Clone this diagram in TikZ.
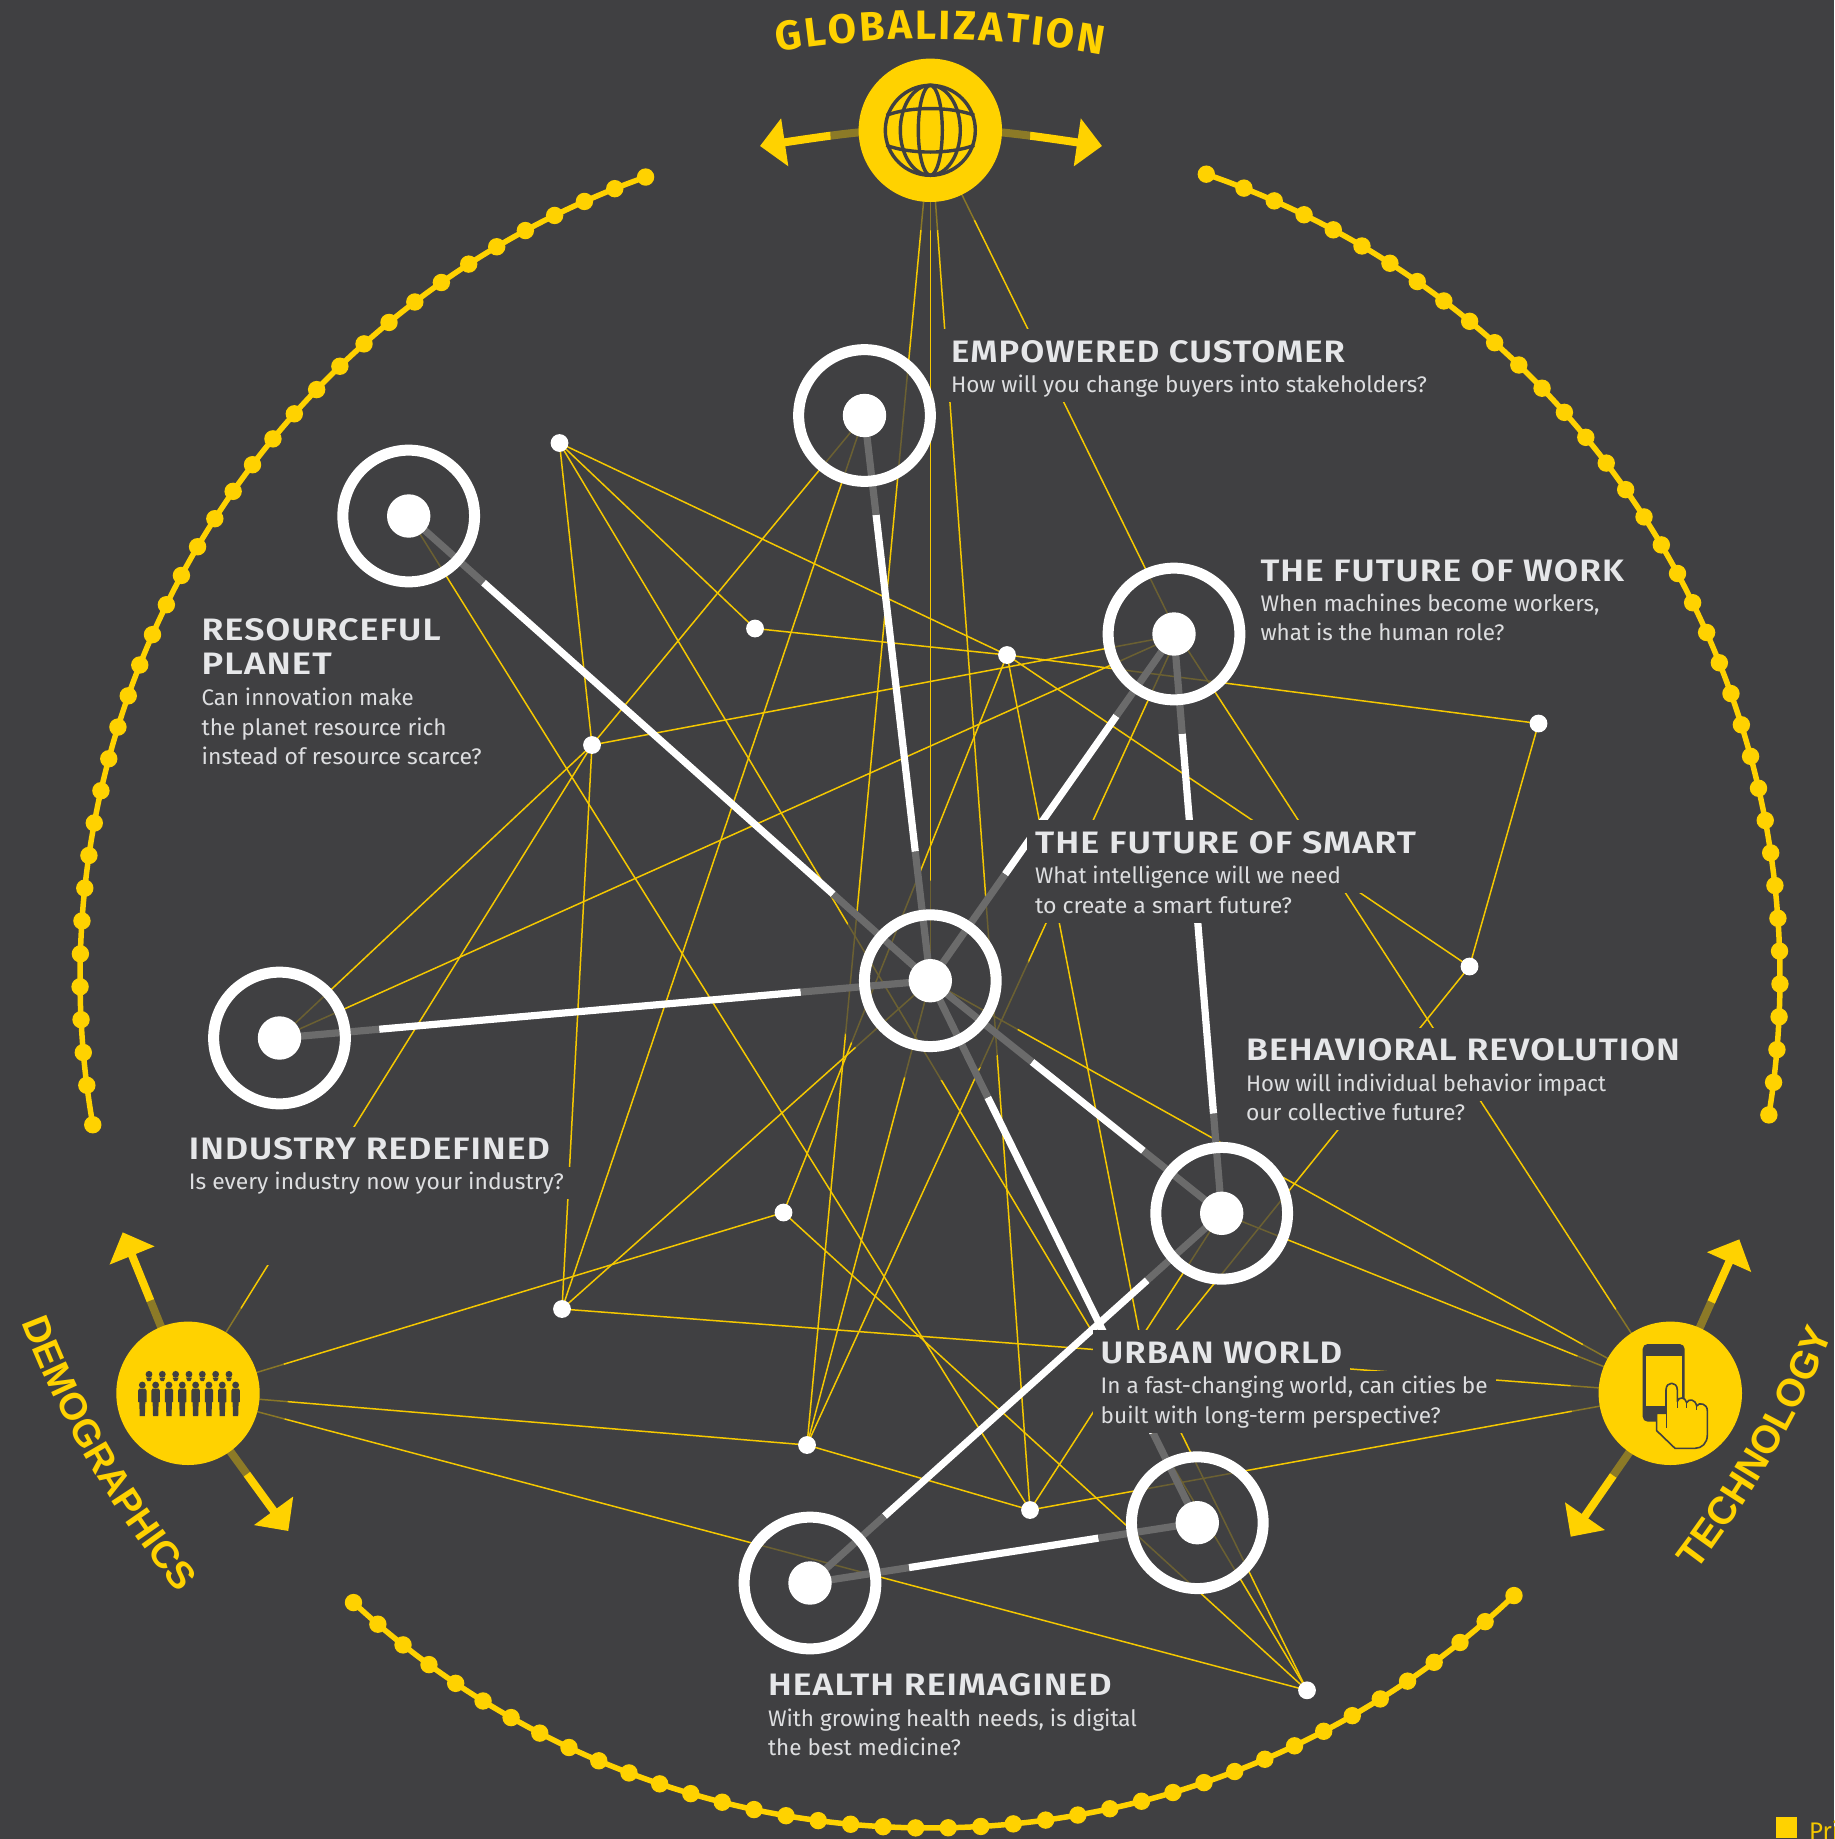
\documentclass[tikz,border=0pt]{standalone}
\usepackage{fontspec}
\setmainfont{Fira Sans}
\newfontfamily\hdfont[LetterSpace=3,BoldFont={Fira Sans SemiBold}]{Fira Sans}
\newfontfamily\curvefont{Liberation Sans}
\usetikzlibrary{calc,arrows.meta,decorations.text}
\definecolor{bgc}{HTML}{404042}
\definecolor{hubyel}{HTML}{FFD200}
\definecolor{thinyel}{HTML}{F5C800}
\definecolor{greyl}{HTML}{6B6B6B}
\definecolor{headc}{HTML}{E6E7E9}
\definecolor{subc}{HTML}{DDDEE0}
\pgfdeclarelayer{back}\pgfdeclarelayer{thinl}\pgfdeclarelayer{veil}\pgfdeclarelayer{thickl}\pgfdeclarelayer{labels}
\pgfsetlayers{back,thinl,veil,thickl,labels,main}
\tikzset{
  hub/.style={circle,fill=hubyel,inner sep=0,outer sep=0,minimum size=143.4pt},
  ring/.style={circle,draw=white,line width=11pt,inner sep=0,outer sep=0,minimum size=131.7pt},
  core/.style={circle,fill=white,inner sep=0,outer sep=0,minimum size=43.4pt},
  dotn/.style={circle,fill=white,inner sep=0,outer sep=0,minimum size=17.8pt},
  thinline/.style={draw=thinyel,line width=1.5pt},
  whiteline/.style={draw=white,line width=7.2pt},
  greyline/.style={draw=greyl,line width=7.2pt},
  hubarrow/.style={draw=hubyel,line width=8pt,-{Triangle[length=25pt,width=47pt,fill=hubyel]}},
  beadline/.style={draw=hubyel,line width=5.5pt},
  headrow/.style={anchor=base west,xshift=-8pt,fill=bgc,inner xsep=8pt,inner ysep=0pt,outer sep=0pt,text height=33pt,text depth=9.5pt,text=headc,font=\hdfont\bfseries\fontsize{31}{33}\selectfont},
  subrow/.style={anchor=base west,xshift=-8pt,fill=bgc,inner xsep=8pt,inner ysep=0pt,outer sep=0pt,text height=22pt,text depth=9.5pt,text=subc,font=\fontsize{22.5}{24}\selectfont},
  icon/.style={draw=bgc,line width=3.4pt},
}
\newcommand\hdl[5]{\node[headrow] (#1) at (#2,#3) {\resizebox{#4pt}{\height}{#5}};}
\newcommand\sbl[6][0]{\node[subrow] (#2) at (#3,#4) {\resizebox{#5pt}{\height}{#6}\hspace*{#1pt}};}
\newcommand\thickseg[4]{%
  \draw[whiteline] ($(#1.center)!#3pt!(#2.center)$) -- ($(#2.center)!#4pt!(#1.center)$);
  \draw[greyline] (#1.center) -- ($(#1.center)!#3pt!(#2.center)$);
  \draw[greyline] (#2.center) -- ($(#2.center)!#4pt!(#1.center)$);}
\begin{document}
\begin{tikzpicture}[x=1pt,y=-1pt]
\useasboundingbox (0,0) rectangle (1834,1839);
% nodes
\node[hub] (hG) at (930.3,130.3) {};
\node[hub] (hD) at (188,1393.3) {};
\node[hub] (hT) at (1670.3,1393.3) {};
\foreach \n/\x/\y in {EC/864.5/415.5,RP/408.7/516,FW/1174/634,CC/930.3/980.7,IR/279.5/1038,BR/1221.7/1213.3,UW/1197.3/1522.7,HR/810/1583}{
  \node[ring] (r\n) at (\x,\y) {};
  \node[core] (c\n) at (\x,\y) {};
}
\foreach \n/\x/\y in {a/559.5/443,b/755/628.5,c/1007/655,d/1538.5/723.5,e/592/745,f/1469.5/966.5,g/783.5/1212.5,h/562/1309,i/807/1445,j/1030/1510,k/1307/1690.3}{
  \node[dotn] (\n) at (\x,\y) {};
}
\coordinate (hidA) at (1144,1357);
\coordinate (hidB) at (1130,1388);
\coordinate (fwT) at (1178,635);
\coordinate (tipGL) at (760,146);
\coordinate (tipGR) at (1102,146);
\coordinate (tipDU) at (122.7,1232.3);
\coordinate (tipDD) at (288.3,1531);
\coordinate (tipTU) at (1739.3,1239.3);
\coordinate (tipTD) at (1570.7,1536.7);

\begin{pgfonlayer}{back}
\fill[bgc] (0,0) rectangle (1834,1839);
% beaded arcs
\draw[beadline] plot[smooth,samples=60,domain=250.45:170.06] ({930+850*cos(\x)},{978+850*sin(\x)});
\foreach \n in {0,...,35}{\pgfmathsetmacro\ang{250.45-\n*2.22}
  \fill[hubyel] ({930+850*cos(\ang)},{978+850*sin(\ang)}) circle[radius=8.7pt];}
\fill[hubyel] ({930+850*cos(170.06)},{978+850*sin(170.06)}) circle[radius=8.7pt];
\draw[beadline] plot[smooth,samples=60,domain=-71.03:9.27] ({930+850*cos(\x)},{978+850*sin(\x)});
\fill[hubyel] ({930+850*cos(-71.03)},{978+850*sin(-71.03)}) circle[radius=8.7pt];
\foreach \n in {0,...,35}{\pgfmathsetmacro\ang{9.27-\n*2.217}
  \fill[hubyel] ({930+850*cos(\ang)},{978+850*sin(\ang)}) circle[radius=8.7pt];}
\draw[beadline] plot[smooth,samples=60,domain=132.71:46.6] ({930+850*cos(\x)},{978+850*sin(\x)});
\foreach \n in {0,...,38}{\pgfmathsetmacro\ang{132.71-\n*2.197}
  \fill[hubyel] ({930+850*cos(\ang)},{978+850*sin(\ang)}) circle[radius=8.7pt];}
\fill[hubyel] ({930+850*cos(46.6)},{978+850*sin(46.6)}) circle[radius=8.7pt];
% corner legend
\fill[hubyel] (1776,1816.7) rectangle (1796.7,1837.7);
\node[anchor=base west,inner sep=0,text=thinyel,font=\fontsize{24}{26}\selectfont] (legend) at (1809,1839.5) {Pri};
\end{pgfonlayer}

\begin{pgfonlayer}{thinl}
\foreach \u/\v in {hG/fwT,hG/j,hG/rCC,hG/i,rEC/e,rEC/h,a/e,a/b,a/c,a/k,e/fwT,e/h,e/rIR,e/hD,rIR/fwT,rRP/j,b/c,c/d,c/f,c/g,c/hidA,hidA/k,d/f,f/hidB,fwT/hT,fwT/i,rCC/i,rCC/h,rCC/hT,rBR/hT,h/hT,j/hT,hD/g,hD/i,hD/k,g/k,i/j,j/rBR}{
  \draw[thinline] (\u.center) -- (\v.center);
}
\draw[hubarrow] (hG.center) .. controls (880,128) and (840,134) .. (tipGL);
\draw[hubarrow] (hG.center) .. controls (980,128) and (1020,134) .. (tipGR);
\draw[hubarrow] (hD.center) -- (tipDU);
\draw[hubarrow] (hD.center) -- (tipDD);
\draw[hubarrow] (hT.center) -- (tipTU);
\draw[hubarrow] (hT.center) -- (tipTD);
\end{pgfonlayer}

\begin{pgfonlayer}{veil}
\foreach \n in {hG,hD,hT}{\fill[bgc,opacity=.6] (\n.center) circle[radius=100pt];}
\fill[bgc,opacity=.76] (rCC.center) circle[radius=100pt];
\foreach \n in {rEC,rRP,rFW,rIR,rBR,rUW,rHR}{\fill[bgc,opacity=.76] (\n.center) circle[radius=61pt];}
\end{pgfonlayer}

\begin{pgfonlayer}{thickl}
\thickseg{rRP}{rCC}{100}{130}
\thickseg{rEC}{rCC}{100}{130}
\thickseg{rFW}{rCC}{100}{130}
\thickseg{rIR}{rCC}{100}{130}
\thickseg{rBR}{rCC}{100}{130}
\thickseg{rUW}{rCC}{100}{130}
\thickseg{rFW}{rBR}{100}{100}
\thickseg{rBR}{rHR}{100}{100}
\thickseg{rUW}{rHR}{100}{100}
\end{pgfonlayer}

\begin{pgfonlayer}{labels}
% curved titles
\path[decorate,decoration={text along path,text color=hubyel,text align=fit to path,
   text={|\fontsize{41}{43}\selectfont\bfseries|GLOBALIZATION}}]
   (777.2,51.5) .. controls (884.9,33.8) and (994.8,34.9) .. (1102.1,54.9);
\path[decorate,decoration={text along path,text color=hubyel,text align=fit to path,
   text={|\curvefont\bfseries\fontsize{38}{40}\selectfont|DEMOGRAPHICS}}]
   (21.9,1322) .. controls (57.7,1416.5) and (108.2,1504.9) .. (171.2,1583.8);
\path[decorate,decoration={text along path,text color=hubyel,text align=fit to path,
   text={|\curvefont\bfseries\fontsize{39}{41}\selectfont|TECHNOLOGY}}]
   (1696,1571) .. controls (1750,1500) and (1797.7,1420) .. (1832,1335);
\fill[white] (hidB) circle[radius=2.5pt];
\fill[bgc] (181,1198) rectangle (330,1265);
\hdl{h1}{951}{362}{394}{EMPOWERED CUSTOMER}
\sbl{s1a}{951}{392}{476}{How will you change buyers into stakeholders?}
\hdl{h2}{1260.5}{581}{363.5}{THE FUTURE OF WORK}
\sbl{s2a}{1260.5}{611.7}{339}{When machines become workers,}
\sbl{s2b}{1260.5}{640}{244}{what is the human role?}
\hdl{h3}{201.7}{640}{239}{RESOURCEFUL}
\hdl{h3b}{201.7}{674.6}{130}{PLANET}
\sbl{s3a}{201.7}{705}{212}{Can innovation make}
\sbl{s3b}{201.7}{735}{245}{the planet resource rich}
\sbl{s3c}{201.7}{764.6}{280}{instead of resource scarce?}
\hdl{h4}{1035}{853}{381}{THE FUTURE OF SMART}
\sbl[14]{s4a}{1035}{883.7}{306}{What intelligence will we need}
\sbl{s4b}{1035}{913.7}{257}{to create a smart future?}
\hdl{h5}{188.8}{1159.5}{361}{INDUSTRY REDEFINED}
\sbl{s5a}{188.8}{1189.4}{375}{Is every industry now your industry?}
\hdl{h6}{1246}{1060.7}{434}{BEHAVIORAL REVOLUTION}
\sbl{s6a}{1246}{1091.7}{360}{How will individual behavior impact}
\sbl{s6b}{1246}{1120}{219}{our collective future?}
\hdl{h7}{1100.7}{1363}{241.6}{URBAN WORLD}
\sbl{s7a}{1100.7}{1393}{387}{In a fast-changing world, can cities be}
\sbl{s7b}{1100.7}{1423.7}{340}{built with long-term perspective?}
\hdl{h8}{768}{1695.5}{343.6}{HEALTH REIMAGINED}
\sbl{s8a}{768}{1726.7}{369}{With growing health needs, is digital}
\sbl{s8b}{768}{1755.7}{193}{the best medicine?}
\end{pgfonlayer}

% globe icon
\begin{scope}[shift={(930.3,130.3)}]
  \draw[icon] (0,0) circle[radius=45pt];
  \draw[icon] (0,0) ellipse[x radius=12pt,y radius=45pt];
  \draw[icon] (0,0) ellipse[x radius=30pt,y radius=45pt];
  \draw[icon] (-44,-15) .. controls (-20,-24) and (20,-24) .. (44,-15);
  \draw[icon] (-44,15) .. controls (-20,24) and (20,24) .. (44,15);
\end{scope}
% people icon
\foreach \k in {0,...,6}{
  \pgfmathsetmacro\px{149+13.33*\k}
  \fill[bgc] (\px,1374.3) circle[radius=3.4pt];
  \fill[bgc] (\px-3,1377.5) -- (\px+3,1377.5) -- (\px+1.5,1381) -- (\px-1.5,1381) -- cycle;
}
\foreach \k in {0,...,7}{
  \pgfmathsetmacro\px{142.3+13.33*\k}
  \fill[bgc] (\px,1385) circle[radius=3.4pt];
  \fill[bgc] (\px-3,1388.5) -- (\px+3,1388.5) -- (\px+4.2,1390.5) -- (\px+4.2,1402) -- (\px+3,1402) -- (\px+2.6,1416) -- (\px-2.6,1416) -- (\px-3,1402) -- (\px-4.2,1402) -- (\px-4.2,1390.5) -- cycle;
}
% phone and hand icon
\begin{scope}[shift={(1500,1200)},x=0.3333pt,y=-0.3333pt]
  \fill[bgc,rounded corners=5pt] (428,432) rectangle (554,665);
  \fill[hubyel] (438,467) rectangle (545,618);
  \filldraw[fill=hubyel,draw=bgc,line width=1.6pt,line join=round]
    (498,640) -- (498,570) .. controls (498,543) and (532,543) .. (532,570) -- (532,604)
    .. controls (536,590) and (556,590) .. (560,608)
    .. controls (566,595) and (586,597) .. (590,618)
    .. controls (596,606) and (622,610) .. (622,632)
    -- (622,705) .. controls (622,730) and (605,745) .. (585,745)
    -- (525,745) -- (470,692) -- (470,640) -- cycle;
  \draw[bgc,line width=1.4pt] (500,640) -- (500,685);
  \draw[bgc,line width=1.2pt] (532,604) -- (532,625);
  \draw[bgc,line width=1.2pt] (560,608) -- (560,625);
  \draw[bgc,line width=1.2pt] (590,618) -- (590,630);
\end{scope}
\end{tikzpicture}
\end{document}
